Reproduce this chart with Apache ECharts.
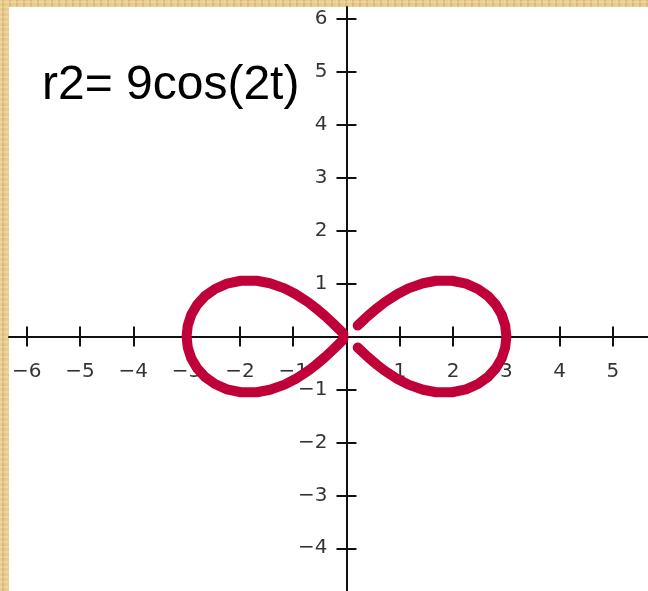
<!DOCTYPE html>
<html>
<head>
<meta charset="utf-8">
<title>r2= 9cos(2t)</title>
<script src="https://cdn.jsdelivr.net/npm/echarts@6/dist/echarts.min.js"></script>
<style>
  html, body { margin: 0; padding: 0; }
  body {
    width: 648px; height: 591px; overflow: hidden;
    background-color: #e5c688;
    background-image:
      repeating-linear-gradient(90deg, rgba(255,240,200,0.25) 0 2px, rgba(190,150,80,0.18) 2px 4px, rgba(255,235,190,0.2) 4px 7px),
      repeating-linear-gradient(0deg, rgba(200,160,90,0.15) 0 3px, rgba(255,240,205,0.2) 3px 5px);
  }
  #paper { position: absolute; left: 9px; top: 7px; width: 639px; height: 584px; background: #ffffff; }
  #chart { position: absolute; left: 0; top: 0; width: 648px; height: 591px; }
</style>
</head>
<body>
<div id="paper"></div>
<div id="chart"></div>
<script>
// Visible window of the plane
const xRange = [-6.332, 5.657];
const yRange = [-4.807, 6.224];

// Tick marks and labels on each axis
const xTicks = [-6, -5, -4, -3, -2, -1, 1, 2, 3, 4, 5];
const yTicks = [-4, -3, -2, -1, 1, 2, 3, 4, 5, 6];

const titleText = 'r2= 9cos(2t)';

// Left loop of the lemniscate, traced from the crossing point
const leftLobe = [
  [-0.06, 0.06], [-0.252, 0.249], [-0.403, 0.389], [-0.580, 0.540], [-0.721, 0.649],
  [-0.958, 0.804], [-1.163, 0.909], [-1.437, 1.006], [-1.684, 1.053], [-1.981, 1.053],
  [-2.242, 0.998], [-2.467, 0.898], [-2.656, 0.762], [-2.805, 0.596], [-2.913, 0.409],
  [-2.978, 0.208], [-3.000, 0.000], [-2.978, -0.208], [-2.913, -0.409], [-2.805, -0.596],
  [-2.656, -0.762], [-2.467, -0.898], [-2.242, -0.998], [-1.981, -1.053], [-1.684, -1.053],
  [-1.437, -1.006], [-1.163, -0.909], [-0.958, -0.804], [-0.721, -0.649], [-0.580, -0.540],
  [-0.403, -0.389], [-0.252, -0.249], [-0.06, -0.06], [-0.06, 0.06]
];

// Right loop, open near the crossing point
const rightLobe = [
  [0.21, 0.208], [0.403, 0.389], [0.580, 0.540], [0.721, 0.649], [0.958, 0.804],
  [1.163, 0.909], [1.437, 1.006], [1.684, 1.053], [1.981, 1.053], [2.242, 0.998],
  [2.467, 0.898], [2.656, 0.762], [2.805, 0.596], [2.913, 0.409], [2.978, 0.208],
  [3.000, 0.000], [2.978, -0.208], [2.913, -0.409], [2.805, -0.596], [2.656, -0.762],
  [2.467, -0.898], [2.242, -0.998], [1.981, -1.053], [1.684, -1.053], [1.437, -1.006],
  [1.163, -0.909], [0.958, -0.804], [0.721, -0.649], [0.580, -0.540], [0.403, -0.389],
  [0.21, -0.208]
];

const axisColor = '#111';
const labelFont = { fontFamily: 'DejaVu Sans', fontSize: 20, color: '#000' };
const fmt = v => (v < 0 ? '\u2212' + (-v) : String(v));

// Two axes per direction so that each tick mark crosses the axis line
function xAxisDef(pos, withLine, zeroIdx) {
  return {
    type: 'value', position: pos, min: xRange[0], max: xRange[1],
    splitLine: { show: false },
    axisLine: { show: withLine, onZero: true, onZeroAxisIndex: zeroIdx, lineStyle: { color: axisColor, width: 2 } },
    axisTick: { show: true, length: 10, customValues: xTicks, lineStyle: { color: axisColor, width: 2 } },
    axisLabel: { show: false }
  };
}
function yAxisDef(pos, withLine, zeroIdx) {
  return {
    type: 'value', position: pos, min: yRange[0], max: yRange[1],
    splitLine: { show: false },
    axisLine: { show: withLine, onZero: true, onZeroAxisIndex: zeroIdx, lineStyle: { color: axisColor, width: 2 } },
    axisTick: { show: true, length: 10, customValues: yTicks, lineStyle: { color: axisColor, width: 2 } },
    axisLabel: { show: false }
  };
}

const curveStyle = { color: '#bf0039', width: 10, cap: 'round', join: 'round' };

const chart = echarts.init(document.getElementById('chart'), null, { renderer: 'canvas' });
chart.setOption({
  animation: false,
  backgroundColor: 'transparent',
  grid: { left: 9, top: 7, right: 0, bottom: 0, show: false, outerBoundsMode: 'none' },
  xAxis: [xAxisDef('bottom', true, 0), xAxisDef('top', false, 1)],
  yAxis: [yAxisDef('left', true, 0), yAxisDef('right', false, 1)],
  graphic: [{
    type: 'text', left: 42, top: 62, z: 10,
    style: { text: titleText, fontFamily: 'Liberation Sans', fontSize: 48, fill: '#000' }
  }],
  series: [
    { type: 'line', data: leftLobe, showSymbol: false, symbol: 'none', lineStyle: curveStyle, clip: true, z: 5 },
    { type: 'line', data: rightLobe, showSymbol: false, symbol: 'none', lineStyle: curveStyle, clip: true, z: 5 },
    {
      // numbers under the horizontal axis
      type: 'scatter', data: xTicks.map(v => [v, 0]), symbolSize: 0, silent: true, z: 3,
      label: Object.assign({ show: true, position: 'bottom', distance: 25, formatter: p => fmt(p.value[0]) }, labelFont)
    },
    {
      // numbers left of the vertical axis
      type: 'scatter', data: yTicks.map(v => [0, v]), symbolSize: 0, silent: true, z: 3,
      label: Object.assign({ show: true, position: 'left', distance: 19, formatter: p => fmt(p.value[1]) }, labelFont)
    }
  ]
});
</script>
</body>
</html>
